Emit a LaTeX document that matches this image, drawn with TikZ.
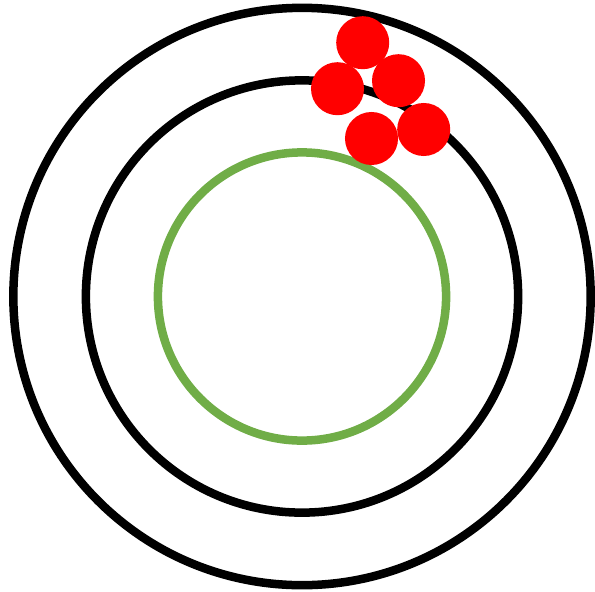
\documentclass[tikz,border=0pt]{standalone}
\usepackage{tikz}
\definecolor{ringgreen}{HTML}{70AD47}
\definecolor{ballred}{HTML}{FF0000}
\begin{document}
\begin{tikzpicture}[x=0.01cm, y=-0.01cm,
    ring/.style={draw=black, line width=0.085cm},
    inner ring/.style={draw=ringgreen, line width=0.085cm},
    ball/.style={fill=ballred, draw=none}
]
  \useasboundingbox (0,0) rectangle (595,591);
  \coordinate (centre) at (302,296.5);
  \draw[ring] (centre) circle[radius=2.885cm];
  \draw[ring] (centre) circle[radius=2.16cm];
  \draw[inner ring] (centre) circle[radius=1.44cm];
  % red balls near the top
  \foreach \bx/\by in {362.7/42.7, 337.5/88.7, 398.5/80.7, 371.5/138.5, 423.7/129.5}
    \fill[ball] (\bx,\by) circle[radius=0.265cm];
\end{tikzpicture}
\end{document}
